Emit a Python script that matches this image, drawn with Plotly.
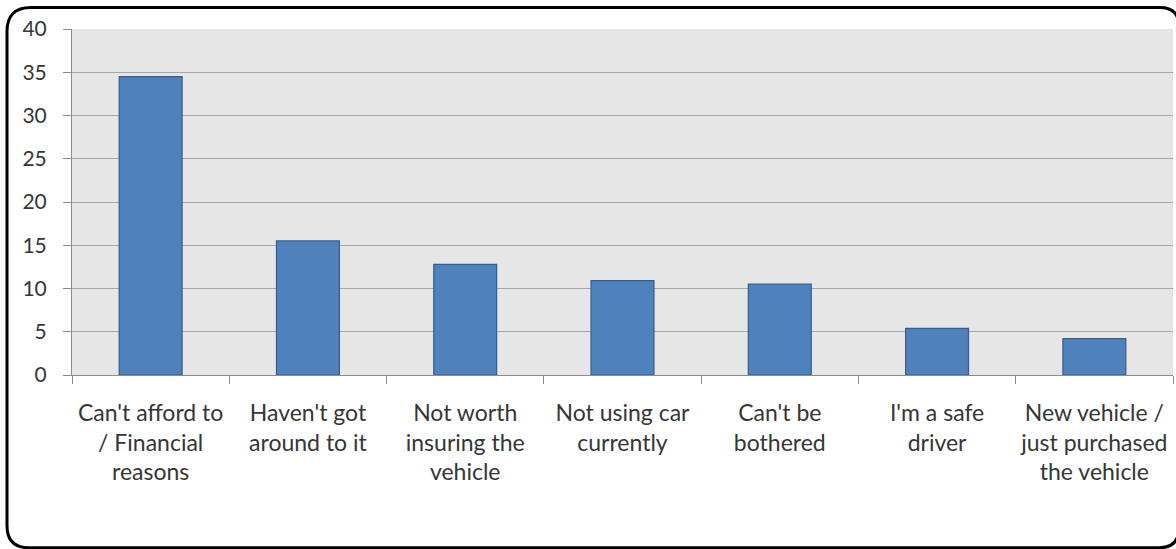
import plotly.graph_objects as go

categories = [
    "Can't afford to<br>/ Financial<br>reasons",
    "Haven't got<br>around to it",
    "Not worth<br>insuring the<br>vehicle",
    "Not using car<br>currently",
    "Can't be<br>bothered",
    "I'm a safe<br>driver",
    "New vehicle /<br>just purchased<br>the vehicle",
]
values = [34.5, 15.5, 12.8, 10.9, 10.5, 5.4, 4.2]
y_ticks = [0, 5, 10, 15, 20, 25, 30, 35, 40]

W, H = 1176, 549
L, R, T, B = 72, 3, 28.5, 173.7
pw = W - L - R
ph = H - T - B


def px(x):
    return (x - L) / pw


def py(y):
    return (H - B - y) / ph


fig = go.Figure(
    go.Bar(
        x=categories,
        y=values,
        marker=dict(color="#4F81BD", line=dict(color="#385D8A", width=1.2)),
        width=0.4,
    )
)

# rounded outer frame (pixel coords converted to paper)
x0, y0, x1, y1 = 7, 7, 1179, 548.5
r1, r2, r3, r4 = 24, 19, 22, 20
path = (
    f"M {px(x0)},{py(y0 + r1)} "
    f"Q {px(x0)},{py(y0)} {px(x0 + r1)},{py(y0)} "
    f"L {px(x1 - r2)},{py(y0)} "
    f"Q {px(x1)},{py(y0)} {px(x1)},{py(y0 + r2)} "
    f"L {px(x1)},{py(y1 - r4)} "
    f"Q {px(x1)},{py(y1)} {px(x1 - r4)},{py(y1)} "
    f"L {px(x0 + r3)},{py(y1)} "
    f"Q {px(x0)},{py(y1)} {px(x0)},{py(y1 - r3)} Z"
)
fig.add_shape(
    type="path", path=path, xref="paper", yref="paper",
    line=dict(color="#000000", width=3), fillcolor="rgba(0,0,0,0)", layer="above",
)

fig.update_layout(
    width=W, height=H,
    margin=dict(l=L, r=R, t=T, b=B, pad=0),
    paper_bgcolor="white",
    plot_bgcolor="#E6E6E6",
    font=dict(family="Lato, Carlito, Calibri, sans-serif", color="#363636"),
    showlegend=False,
    bargap=0.6,
)
fig.update_xaxes(
    type="category",
    tickson="boundaries",
    ticks="outside", ticklen=8, tickcolor="#8C8C8C", tickwidth=1,
    showgrid=False,
    showline=True, linecolor="#8C8C8C", linewidth=1,
    tickfont=dict(size=23, color="#363636"),
    ticklabelstandoff=17,
    fixedrange=True,
)
fig.update_yaxes(
    range=[0, 40],
    tickvals=y_ticks,
    ticks="outside", ticklen=8, tickcolor="#8C8C8C", tickwidth=1,
    showgrid=True, gridcolor="#A6A6A6", gridwidth=1.3,
    showline=True, linecolor="#8C8C8C", linewidth=1,
    tickfont=dict(size=21, color="#363636"),
    ticklabelstandoff=12,
    zeroline=False,
    fixedrange=True,
)

fig.write_html(
    "out.html",
    config={"displayModeBar": False},
    post_script="document.body.style.margin='0px';document.body.style.padding='0px';",
)
